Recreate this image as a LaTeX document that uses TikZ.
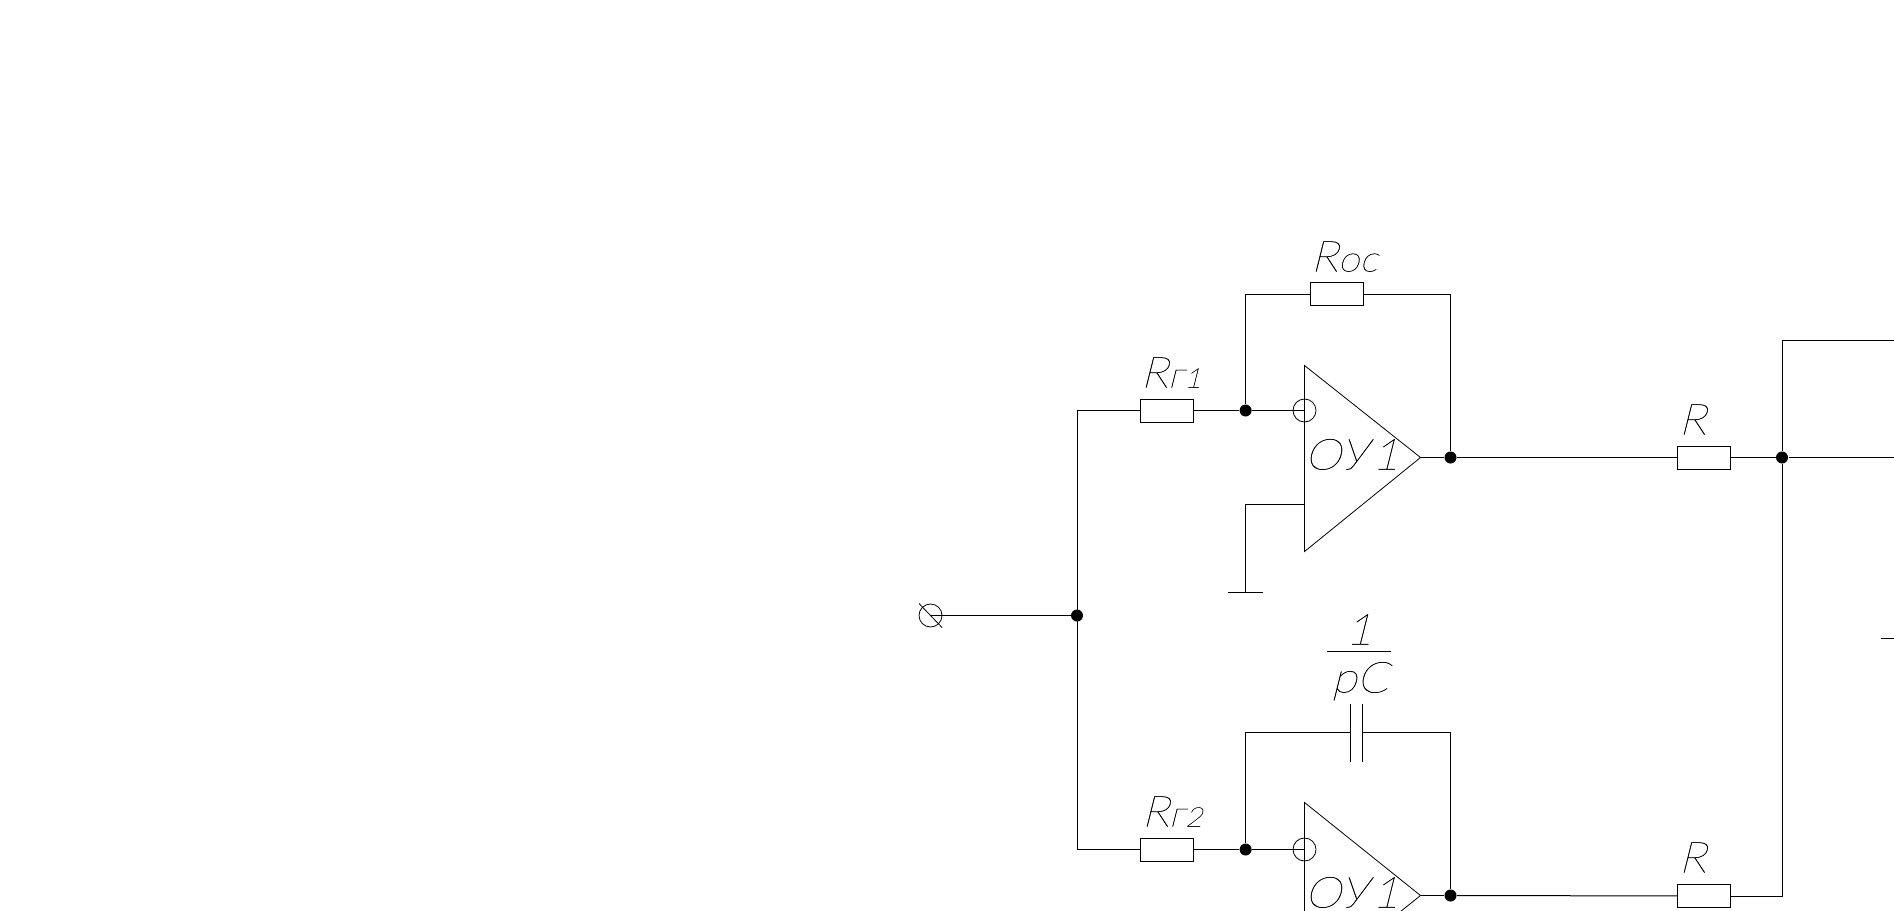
\documentclass[tikz,border=0pt]{standalone}
\usepackage{fontspec}
\newfontfamily\cadfont[FakeSlant=0.25,FakeStretch=1.08,FakeBold=0.5]{Lato Thin}
\newcommand{\lowlet}[1]{{\fontsize{36}{36}\selectfont #1}}
\newcommand{\lownum}[1]{{\fontsize{27}{27}\selectfont #1}}
\usetikzlibrary{positioning}
\tikzset{
	res/.style={rectangle,draw,minimum width=53,minimum height=23,inner sep=0pt},
	dot/.style={circle,fill=black,minimum size=12,inner sep=0pt},
	lab/.style={anchor=base west,font=\cadfont\fontsize{43}{43}\selectfont,inner sep=0pt},
	inv/.style={circle,draw,line width=0.8pt,minimum size=23,inner sep=0pt},
	amp/.style={line width=0.8pt}
}
\begin{document}
\begin{tikzpicture}[x=1pt,y=-1pt,line width=1pt]
	\clip (0,0.5) rectangle (1894,910.5);
	% input side
	\node[inv] (in) at (930.5,616) {};
	\node[dot] (j0) at (1077,616) {};
	\coordinate (a1) at (1077,411);
	\coordinate (a2) at (1077,850);
	\node[res] (rg1) at (1166.5,411) {};
	\node[res] (rg2) at (1166.5,850) {};
	\node[dot] (j1) at (1245.6,411) {};
	\node[dot] (j2) at (1245.6,850) {};
	\draw (in.center) -- (j0);
	\draw[amp] (in.center) ++(-11.5,-12) -- ++(23,24);
	\draw (rg1) -- (a1) -- (a2) -- (rg2);
	\draw (rg1) -- (j1);
	\draw (rg2) -- (j2);
	% upper amplifier
	\coordinate (u1a) at (1304.5,366);
	\coordinate (u1b) at (1304.5,552);
	\coordinate (u1c) at (1420.5,458);
	\coordinate (u1p) at (1304.5,505);
	\draw[amp] (u1a) -- (u1b) -- (u1c) -- cycle;
	\node[inv] (n1) at (1304.5,411) {};
	\node[dot] (o1) at (1450.5,458) {};
	\node[res] (roc) at (1336.5,294.5) {};
	\draw (j1) -- (n1.center);
	\draw (j1) |- (roc);
	\draw (roc) -| (o1);
	\draw (u1c) -- (o1);
	\coordinate (gnd) at (1245.6,593);
	\coordinate (gnd1) at (1228,593);
	\coordinate (gnd2) at (1263,593);
	\draw (u1p) -| (gnd);
	\draw (gnd1) -- (gnd2);
	% lower amplifier
	\coordinate (u2a) at (1304.5,803);
	\coordinate (u2b) at (1304.5,989);
	\coordinate (u2c) at (1420.5,896);
	\draw[amp] (u2a) -- (u2b) -- (u2c) -- cycle;
	\node[inv] (n2) at (1304.5,850) {};
	\node[dot] (o2) at (1450.5,896) {};
	\coordinate (c1) at (1350.5,733);
	\coordinate (c2) at (1362.5,733);
	\draw[amp] (c1) ++(0,-29) -- ++(0,58);
	\draw[amp] (c2) ++(0,-29) -- ++(0,58);
	\draw (j2) |- (c1);
	\draw (c2) -| (o2);
	\draw (u2c) -- (o2);
	\draw (j2) -- (n2.center);
	% output side
	\node[res] (r1) at (1704,458) {};
	\node[res] (r2) at (1704,896.5) {};
	\node[dot] (j3) at (1782,458) {};
	\coordinate (e1) at (1894,458);
	\coordinate (e2) at (1894,341);
	\coordinate (e3) at (1881,639);
	\coordinate (e4) at (1894,639);
	\draw (o1) -- (r1);
	\draw (r1) -- (j3) -- (e1);
	\draw (o2) -- (r2);
	\draw (r2) -| (j3);
	\draw (j3) |- (e2);
	\draw (e3) -- (e4);
	% labels
	\node[lab] (lroc) at (1310,272) {R\lowlet{ос}};
	\node[lab] (lrg1) at (1140,388) {R\lowlet{г}\hspace{1pt}\lownum{1}};
	\node[lab] (lrg2) at (1141,827) {R\lowlet{г}\hspace{1pt}\lownum{2}};
	\node[lab] (lr1) at (1678,435) {R};
	\node[lab] (lr2) at (1678,873) {R};
	\node[lab] (lou1) at (1304,470) {ОУ\hspace{5pt}1};
	\node[lab] (lou2) at (1304,908) {ОУ\hspace{5pt}1};
	\node[lab] (lnum) at (1345,645) {1};
	\node[lab] (lden) at (1331,693) {pC};
	\coordinate (f1) at (1327,652);
	\coordinate (f2) at (1391,652);
	\draw (f1) -- (f2);
\end{tikzpicture}
\end{document}
